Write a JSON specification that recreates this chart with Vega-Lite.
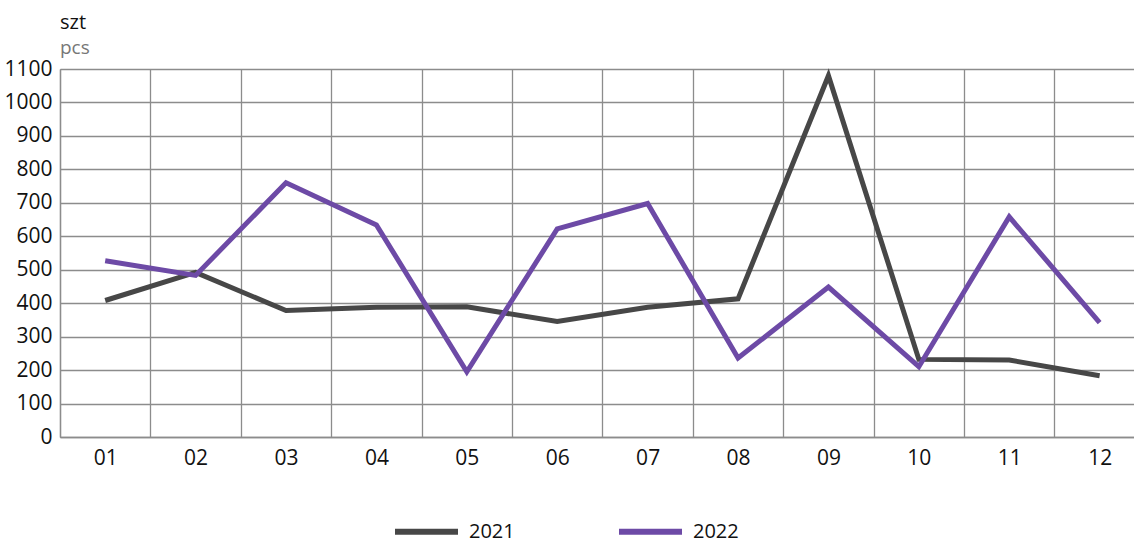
{
  "$schema": "https://vega.github.io/schema/vega-lite/v6.json",
  "autosize": "none",
  "width": 1074,
  "height": 368,
  "padding": {"left": 60, "top": 69, "right": 0, "bottom": 106},
  "background": "white",
  "title": {
    "text": "szt",
    "subtitle": "pcs",
    "anchor": "start",
    "frame": "group",
    "font": "Open Sans",
    "fontSize": 20,
    "fontWeight": "normal",
    "color": "#111111",
    "subtitleFont": "Open Sans",
    "subtitleFontSize": 19,
    "subtitleColor": "#777777",
    "subtitlePadding": 6,
    "offset": 0
  },
  "data": {
    "values": [
      {"month": 1, "year": "2021", "value": 408},
      {"month": 2, "year": "2021", "value": 492},
      {"month": 3, "year": "2021", "value": 378},
      {"month": 4, "year": "2021", "value": 388},
      {"month": 5, "year": "2021", "value": 389},
      {"month": 6, "year": "2021", "value": 345},
      {"month": 7, "year": "2021", "value": 388},
      {"month": 8, "year": "2021", "value": 413},
      {"month": 9, "year": "2021", "value": 1080},
      {"month": 10, "year": "2021", "value": 232},
      {"month": 11, "year": "2021", "value": 230},
      {"month": 12, "year": "2021", "value": 183},
      {"month": 1, "year": "2022", "value": 527},
      {"month": 2, "year": "2022", "value": 483},
      {"month": 3, "year": "2022", "value": 760},
      {"month": 4, "year": "2022", "value": 634},
      {"month": 5, "year": "2022", "value": 195},
      {"month": 6, "year": "2022", "value": 622},
      {"month": 7, "year": "2022", "value": 698},
      {"month": 8, "year": "2022", "value": 236},
      {"month": 9, "year": "2022", "value": 448},
      {"month": 10, "year": "2022", "value": 210},
      {"month": 11, "year": "2022", "value": 658},
      {"month": 12, "year": "2022", "value": 342}
    ]
  },
  "mark": {"type": "line", "strokeWidth": 5, "strokeJoin": "miter", "strokeCap": "butt"},
  "encoding": {
    "x": {
      "field": "month",
      "type": "quantitative",
      "scale": {"domain": [0.5, 12.38], "nice": false, "zero": false},
      "axis": {
        "title": null,
        "values": [0.5, 1.5, 2.5, 3.5, 4.5, 5.5, 6.5, 7.5, 8.5, 9.5, 10.5, 11.5],
        "labelExpr": "format(datum.value + 0.5, '02d')",
        "labelOffset": 45.2,
        "labelAlign": "center",
        "labelFont": "Open Sans",
        "labelFontSize": 21,
        "labelColor": "#111111",
        "labelPadding": 10,
        "ticks": false,
        "grid": true,
        "gridColor": "#8c8c8c",
        "gridWidth": 1.3,
        "domainColor": "#8c8c8c",
        "domainWidth": 1.3,
        "labelFlush": false,
        "labelOverlap": false
      }
    },
    "y": {
      "field": "value",
      "type": "quantitative",
      "scale": {"domain": [0, 1100], "nice": false},
      "axis": {
        "title": null,
        "values": [0, 100, 200, 300, 400, 500, 600, 700, 800, 900, 1000, 1100],
        "format": "d",
        "labelFont": "Open Sans",
        "labelFontSize": 21,
        "labelColor": "#111111",
        "labelPadding": 8,
        "ticks": false,
        "grid": true,
        "gridColor": "#8c8c8c",
        "gridWidth": 1.3,
        "domainColor": "#8c8c8c",
        "domainWidth": 1.3,
        "labelOverlap": false
      }
    },
    "color": {
      "field": "year",
      "type": "nominal",
      "scale": {"domain": ["2021", "2022"], "range": ["#474747", "#6d4aa6"]},
      "legend": {
        "title": null,
        "orient": "none",
        "direction": "horizontal",
        "legendX": 332,
        "legendY": 428,
        "symbolType": "stroke",
        "symbolSize": 3969,
        "symbolStrokeWidth": 6,
        "labelFont": "Open Sans",
        "labelFontSize": 20,
        "labelColor": "#111111",
        "labelOffset": 8,
        "columnPadding": 92
      }
    }
  }
}
